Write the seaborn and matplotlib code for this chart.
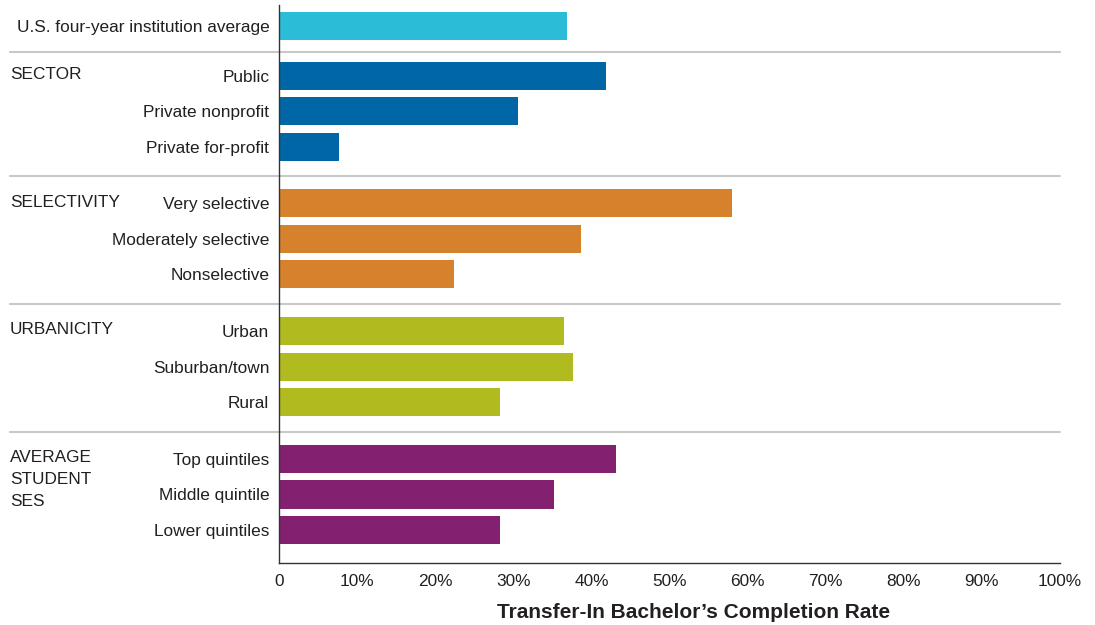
import matplotlib
matplotlib.use("Agg")
import matplotlib.pyplot as plt
import matplotlib.transforms as mtransforms
import seaborn as sns
import pandas as pd

# ---- data ----
group_names = ["", "SECTOR", "SELECTIVITY", "URBANICITY", "AVERAGE\nSTUDENT\nSES"]
categories = [
    ["U.S. four-year institution average"],
    ["Public", "Private nonprofit", "Private for-profit"],
    ["Very selective", "Moderately selective", "Nonselective"],
    ["Urban", "Suburban/town", "Rural"],
    ["Top quintiles", "Middle quintile", "Lower quintiles"],
]
values = [
    [36.9],
    [41.9, 30.6, 7.7],
    [58.0, 38.7, 22.4],
    [36.5, 37.6, 28.3],
    [43.1, 35.2, 28.3],
]
group_colors = ["#2BBCD8", "#0066A6", "#D6812B", "#B1BA1F", "#842070"]
tick_values = [0, 10, 20, 30, 40, 50, 60, 70, 80, 90, 100]
tick_labels = ["0"] + [f"{v}%" for v in tick_values[1:]]
xlabel = "Transfer-In Bachelor\u2019s Completion Rate"

# ---- layout: row positions with extra gaps between groups ----
rows = []
pos = 0.0
group_starts = []
group_ends = []
for gi, (cats, vals) in enumerate(zip(categories, values)):
    if gi > 0:
        pos += 1.4 if gi == 1 else 1.6
    group_starts.append(pos)
    for ci, (c, v) in enumerate(zip(cats, vals)):
        if ci > 0:
            pos += 1.0
        rows.append({"pos": round(pos, 3), "label": c, "value": v, "group": gi})
    group_ends.append(pos)
df = pd.DataFrame(rows)

sns.set_theme(style="white")
plt.rcParams["font.family"] = ["Liberation Sans", "DejaVu Sans"]
text_color = "#231F20"

fig = plt.figure(figsize=(10.95, 6.25), dpi=100)
ax = fig.add_axes([279 / 1095, 1 - 563 / 625, (1060 - 279) / 1095, (563 - 5) / 625])
ax.patch.set_alpha(0)

palette = {i: c for i, c in enumerate(group_colors)}
sns.barplot(data=df, x="value", y="pos", hue="group", palette=palette,
            orient="h", native_scale=True, dodge=False, width=0.79,
            saturation=1, legend=False, ax=ax, zorder=3, linewidth=0)

ax.set_xlim(0, 100)
ax.set_ylim(15.13, -0.59)
ax.set_yticks(df["pos"].tolist())
ax.set_yticklabels(df["label"].tolist())
ax.set_xticks(tick_values)
ax.set_xticklabels(tick_labels)
ax.tick_params(axis="y", length=0, pad=7, labelsize=12.4, labelcolor=text_color)
ax.tick_params(axis="x", length=0, pad=8, labelsize=12.4, labelcolor=text_color)
ax.set_ylabel("")
ax.set_xlabel("")

for s in ["top", "right"]:
    ax.spines[s].set_visible(False)
for s in ["left", "bottom"]:
    ax.spines[s].set_color("#333333")
    ax.spines[s].set_linewidth(1.0)
    ax.spines[s].set_zorder(5)

fig.text(694 / 1095, 1 - 613 / 625, xlabel, fontsize=15, fontweight="bold",
         color=text_color, ha="center", va="center")

# separators between groups
trans = mtransforms.blended_transform_factory(fig.transFigure, ax.transData)
for gi in range(1, len(categories)):
    ysep = (group_ends[gi - 1] + group_starts[gi]) / 2 + 0.04
    ax.plot([10 / 1095, 1060 / 1095], [ysep, ysep], transform=trans,
            color="#C8C8C8", lw=1.5, zorder=1, clip_on=False)

# group titles
for gi in range(1, len(categories)):
    fig.text(10 / 1095, group_starts[gi] - 0.25, group_names[gi], transform=trans,
             fontsize=12.4, color=text_color, ha="left", va="top", linespacing=1.58)

fig.savefig("out.png", dpi=100)
